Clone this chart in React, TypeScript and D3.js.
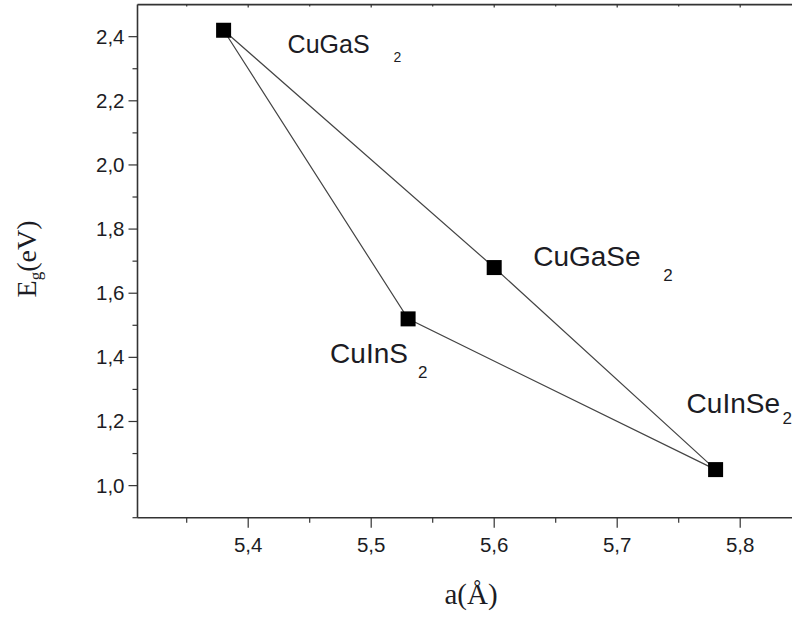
import { useEffect, useRef } from 'react';
import * as d3 from 'd3';

const compounds = ['CuGaS', 'CuInS', 'CuGaSe', 'CuInSe'];
const latticeA = [5.38, 5.53, 5.60, 5.78];
const bandGap = [2.42, 1.52, 1.68, 1.05];
// two paths through the points: S -> In, Ga -> Se
const pathA = ['CuGaS', 'CuInS', 'CuInSe'];
const pathB = ['CuGaS', 'CuGaSe', 'CuInSe'];
const xMajor = [5.4, 5.5, 5.6, 5.7, 5.8];
const xMinor = [5.35, 5.45, 5.55, 5.65, 5.75, 5.85];
const yMajor = [1.0, 1.2, 1.4, 1.6, 1.8, 2.0, 2.2, 2.4];
const yMinor = [0.9, 1.1, 1.3, 1.5, 1.7, 1.9, 2.1, 2.3];

const fmt = (d: number) => d.toFixed(1).replace('.', ',');

function App() {
    const svgRef = useRef<SVGSVGElement>(null);

    useEffect(() => {
        if (!svgRef.current) return;
        const svg = d3.select(svgRef.current);
        svg.selectAll('*').remove();

        const left = 137.5, bottom = 517.7, top = 4.6;
        const x = d3.scaleLinear().domain([5.31, 5.85]).range([left, left + 0.54 * 1230]);
        const y = d3.scaleLinear().domain([0.9, 2.5]).range([bottom, top]);
        const axisColor = '#333';
        const textColor = '#1c1c24';
        const sans = '"Liberation Sans", Arial, sans-serif';
        const serif = '"Liberation Serif", "Times New Roman", serif';

        const g = svg.append('g');

        // axes lines
        g.append('line').attr('x1', left).attr('x2', left).attr('y1', top).attr('y2', bottom)
            .attr('stroke', axisColor).attr('stroke-width', 1.6);
        g.append('line').attr('x1', left).attr('x2', 792).attr('y1', bottom).attr('y2', bottom)
            .attr('stroke', axisColor).attr('stroke-width', 1.6);
        g.append('line').attr('x1', left).attr('x2', 792).attr('y1', top).attr('y2', top)
            .attr('stroke', axisColor).attr('stroke-width', 1.6);

        // y ticks
        yMajor.forEach((v) => {
            g.append('line').attr('x1', left - 9).attr('x2', left).attr('y1', y(v)).attr('y2', y(v))
                .attr('stroke', axisColor).attr('stroke-width', 1.2);
            g.append('text').attr('x', left - 13).attr('y', y(v) + 7)
                .attr('text-anchor', 'end').attr('font-family', sans).attr('font-size', 20.5)
                .attr('fill', textColor).text(fmt(v));
        });
        yMinor.forEach((v) => {
            g.append('line').attr('x1', left - 5).attr('x2', left).attr('y1', y(v)).attr('y2', y(v))
                .attr('stroke', axisColor).attr('stroke-width', 1.2);
        });

        // x ticks
        xMajor.forEach((v) => {
            g.append('line').attr('x1', x(v)).attr('x2', x(v)).attr('y1', bottom).attr('y2', bottom + 10)
                .attr('stroke', axisColor).attr('stroke-width', 1.2);
            g.append('line').attr('x1', x(v)).attr('x2', x(v)).attr('y1', top).attr('y2', top + 3)
                .attr('stroke', axisColor).attr('stroke-width', 1.2);
            g.append('text').attr('x', x(v)).attr('y', bottom + 34)
                .attr('text-anchor', 'middle').attr('font-family', sans).attr('font-size', 20.5)
                .attr('fill', textColor).text(fmt(v));
        });
        xMinor.forEach((v) => {
            g.append('line').attr('x1', x(v)).attr('x2', x(v)).attr('y1', bottom).attr('y2', bottom + 5)
                .attr('stroke', axisColor).attr('stroke-width', 1.2);
            g.append('line').attr('x1', x(v)).attr('x2', x(v)).attr('y1', top).attr('y2', top + 2)
                .attr('stroke', axisColor).attr('stroke-width', 1.2);
        });

        // axis titles
        g.append('text').attr('x', 471).attr('y', 604).attr('text-anchor', 'middle')
            .attr('font-family', serif).attr('font-size', 29).attr('fill', textColor)
            .text('a(Å)');
        const yt = g.append('text').attr('transform', 'translate(36,259) rotate(-90)')
            .attr('text-anchor', 'middle').attr('font-family', serif).attr('font-size', 28)
            .attr('fill', textColor);
        yt.append('tspan').text('E');
        yt.append('tspan').attr('font-size', 17).attr('dy', 5).text('g');
        yt.append('tspan').attr('dy', -5).text('(eV)');

        // connecting lines
        const idx = (name: string) => compounds.indexOf(name);
        const line = d3.line<string>()
            .x((n) => x(latticeA[idx(n)]))
            .y((n) => y(bandGap[idx(n)]));
        [pathA, pathB].forEach((p) => {
            g.append('path').attr('d', line(p)).attr('fill', 'none')
                .attr('stroke', '#444').attr('stroke-width', 1.2);
        });

        // markers
        const size = 15;
        compounds.forEach((_, i) => {
            g.append('rect')
                .attr('x', x(latticeA[i]) - size / 2).attr('y', y(bandGap[i]) - size / 2)
                .attr('width', size).attr('height', size).attr('fill', '#000');
        });

        // labels: [dx, dy, fontSize, subDx, subDy, subSize]
        const labelStyle: Record<string, number[]> = {
            CuGaS: [64, 23, 25, 106, 9, 14],
            CuGaSe: [39, -2, 28, 130, 15, 17],
            CuInS: [-78, 44, 28, 88, 15, 17],
            CuInSe: [-29, -57, 28, 96, 11, 17],
        };
        compounds.forEach((name, i) => {
            const [dx, dy, fs, sdx, sdy, sfs] = labelStyle[name];
            const px = x(latticeA[i]) + dx;
            const py = y(bandGap[i]) + dy;
            g.append('text').attr('x', px).attr('y', py).attr('font-family', sans)
                .attr('font-size', fs).attr('fill', textColor).text(name);
            g.append('text').attr('x', px + sdx).attr('y', py + sdy).attr('font-family', sans)
                .attr('font-size', sfs).attr('fill', textColor).text('2');
        });
    }, []);

    return (
        <svg ref={svgRef} width={792} height={620}
            style={{ position: 'absolute', left: 0, top: 0, background: '#fff' }}></svg>
    );
}

export default App;
